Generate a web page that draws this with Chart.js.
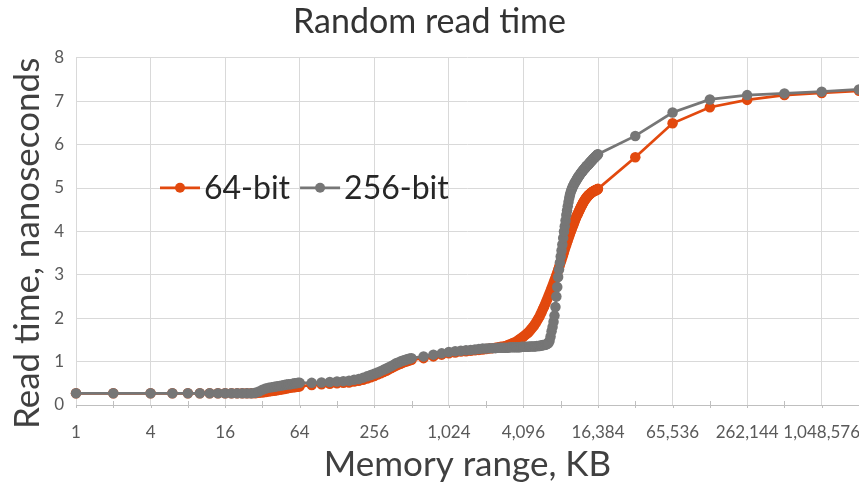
<!DOCTYPE html>
<html><head><meta charset="utf-8">
<script src="https://cdn.jsdelivr.net/npm/chart.js@4"></script>
<style>html,body{margin:0;padding:0;background:#fff}</style>
</head><body>
<canvas id="c" width="859" height="487"></canvas>
<script>
// Memory range sample points, KB
const sizesKB = [
  1,2,4,6,8,10,12,14,16,18,20,22,24,26,28,30,32,34,36,38,40,42,44,46,48,50,52,54,56,58,60,62,64,
  80,96,112,128,144,160,176,192,208,224,240,256,272,288,304,320,336,352,368,384,400,416,432,448,464,480,496,512,
  640,768,896,1024,1152,1280,1408,1536,1664,1792,1920,2048,2176,2304,2432,2560,2688,2816,2944,3072,
  3200,3328,3456,3584,3712,3840,3968,4096,4224,4352,4480,4608,4736,4864,4992,5120,5248,5376,5504,5632,
  5760,5888,6016,6144,6272,6400,6528,6656,6784,6912,7040,7168,7296,7424,7552,7680,7808,7936,8064,8192,
  8320,8448,8576,8704,8832,8960,9088,9216,9344,9472,9600,9728,9856,9984,10112,10240,10368,10496,10624,10752,
  10880,11008,11136,11264,11392,11520,11648,11776,11904,12032,12160,12288,12416,12544,12672,12800,12928,13056,13184,13312,
  13440,13568,13696,13824,13952,14080,14208,14336,14464,14592,14720,14848,14976,15104,15232,15360,15488,15616,15744,15872,
  16000,16128,16256,16384,
  32768,65536,131072,262144,524288,1048576,2097152
];

// 64-bit read time, ns
const read64 = [
  0.27,0.27,0.27,0.27,0.27,0.27,0.27,0.27,0.27,0.27,0.27,0.27,0.27,0.27,0.27,0.28,0.29,0.30,0.31,0.32,0.33,0.34,0.35,0.36,0.37,0.38,0.39,0.40,0.41,0.41,0.42,0.42,0.43,
  0.46,0.48,0.49,0.50,0.51,0.52,0.54,0.56,0.58,0.61,0.64,0.67,0.70,0.73,0.76,0.79,0.82,0.85,0.88,0.91,0.93,0.95,0.97,0.99,1.00,1.02,1.03,1.04,
  1.08,1.12,1.16,1.19,1.21,1.23,1.24,1.25,1.26,1.27,1.28,1.29,1.30,1.31,1.32,1.33,1.34,1.35,1.36,1.38,
  1.40,1.42,1.44,1.46,1.49,1.52,1.55,1.58,1.61,1.64,1.67,1.71,1.75,1.79,1.83,1.88,1.93,1.98,2.03,2.09,
  2.15,2.21,2.27,2.33,2.39,2.45,2.51,2.57,2.63,2.69,2.75,2.81,2.87,2.93,2.99,3.05,3.11,3.17,3.23,3.29,
  3.35,3.41,3.47,3.53,3.59,3.65,3.70,3.75,3.80,3.85,3.90,3.95,4.00,4.04,4.08,4.12,4.16,4.20,4.24,4.28,
  4.32,4.35,4.38,4.41,4.44,4.47,4.50,4.53,4.56,4.58,4.61,4.63,4.66,4.68,4.70,4.72,4.74,4.76,4.77,4.79,
  4.80,4.82,4.83,4.84,4.85,4.86,4.87,4.88,4.89,4.90,4.91,4.91,4.92,4.93,4.93,4.94,4.94,4.95,4.95,4.96,
  4.96,4.97,4.97,4.98,
  5.71,6.49,6.86,7.03,7.14,7.19,7.24
];

// 256-bit read time, ns
const read256 = [
  0.27,0.27,0.27,0.27,0.27,0.27,0.27,0.27,0.27,0.27,0.27,0.27,0.27,0.27,0.28,0.31,0.35,0.38,0.40,0.41,0.42,0.43,0.44,0.45,0.46,0.47,0.48,0.48,0.49,0.50,0.50,0.51,0.51,
  0.51,0.52,0.53,0.54,0.55,0.56,0.58,0.60,0.63,0.66,0.69,0.72,0.75,0.78,0.81,0.84,0.87,0.90,0.93,0.96,0.98,1.00,1.02,1.03,1.05,1.06,1.07,1.08,
  1.12,1.16,1.19,1.22,1.24,1.25,1.26,1.27,1.28,1.29,1.30,1.30,1.31,1.31,1.31,1.32,1.32,1.32,1.32,1.32,
  1.33,1.33,1.33,1.33,1.33,1.33,1.34,1.34,1.34,1.34,1.34,1.35,1.35,1.35,1.35,1.35,1.36,1.36,1.36,1.37,
  1.37,1.38,1.38,1.39,1.40,1.41,1.43,1.48,1.58,1.70,1.80,1.92,2.06,2.26,2.50,2.72,2.95,3.12,3.28,3.42,
  3.56,3.70,3.85,4.00,4.12,4.25,4.38,4.48,4.58,4.68,4.77,4.84,4.90,4.95,4.99,5.03,5.06,5.09,5.12,5.14,
  5.17,5.19,5.22,5.24,5.26,5.28,5.30,5.32,5.34,5.36,5.37,5.39,5.41,5.42,5.44,5.45,5.47,5.48,5.50,5.51,
  5.52,5.53,5.54,5.56,5.57,5.58,5.60,5.61,5.62,5.63,5.64,5.66,5.67,5.68,5.69,5.70,5.71,5.72,5.73,5.74,
  5.75,5.76,5.77,5.78,
  6.20,6.74,7.04,7.14,7.18,7.22,7.27
];

const seriesNames = ['64-bit', '256-bit'];
const seriesColors = ['#E2490E', '#767676'];
const xTickLabels = ['1','4','16','64','256','1,024','4,096','16,384','65,536','262,144','1,048,576'];
const yTickLabels = ['0','1','2','3','4','5','6','7','8'];
const yAxisTitle = 'Read time, nanoseconds';

if (read64.length !== sizesKB.length || read256.length !== sizesKB.length) {
  throw new Error('length mismatch ' + sizesKB.length + ' ' + read64.length + ' ' + read256.length);
}

const FONT = 'Lato';
const mk = (arr) => sizesKB.map((x, i) => ({x: x, y: arr[i]}));
const exp2 = (v) => Math.round(Math.log2(v));

const minorTicks = {
  id: 'minorTicks',
  beforeDatasetsDraw(chart) {
    const xs = chart.scales.x, ctx = chart.ctx, b = chart.chartArea.bottom;
    ctx.save();
    ctx.strokeStyle = '#bfbfbf';
    ctx.lineWidth = 1;
    for (let e = 0; e <= 21; e++) {
      const px = Math.round(xs.getPixelForValue(Math.pow(2, e))) + 0.5;
      ctx.beginPath();
      ctx.moveTo(px, e % 2 ? b - 4 : b);
      ctx.lineTo(px, b + 3);
      ctx.stroke();
    }
    ctx.restore();
  }
};

const yTitle = {
  id: 'yTitle',
  afterDraw(chart) {
    const ctx = chart.ctx, ca = chart.chartArea;
    ctx.save();
    ctx.translate(28, (ca.top + ca.bottom) / 2 + 12);
    ctx.rotate(-Math.PI / 2);
    ctx.font = '35px ' + FONT;
    ctx.fillStyle = '#404040';
    ctx.textAlign = 'center';
    ctx.textBaseline = 'middle';
    ctx.fillText(yAxisTitle, 0, 0);
    ctx.restore();
  }
};

const innerLegend = {
  id: 'innerLegend',
  afterDraw(chart) {
    const ctx = chart.ctx, ca = chart.chartArea;
    let x = ca.left + 84;
    const y = ca.top + 130;
    ctx.save();
    ctx.font = '32px ' + FONT;
    ctx.textBaseline = 'middle';
    chart.data.datasets.forEach((ds) => {
      ctx.strokeStyle = ds.borderColor;
      ctx.lineWidth = 2.75;
      ctx.beginPath(); ctx.moveTo(x, y); ctx.lineTo(x + 40, y); ctx.stroke();
      ctx.fillStyle = ds.borderColor;
      ctx.beginPath(); ctx.arc(x + 20, y, 5, 0, Math.PI * 2); ctx.fill();
      ctx.fillStyle = '#262626';
      ctx.fillText(ds.label, x + 44, y + 1);
      x += 44 + ctx.measureText(ds.label).width + 10;
    });
    ctx.restore();
  }
};

new Chart(document.getElementById('c'), {
  type: 'line',
  data: {
    datasets: [
      { label: seriesNames[0], data: mk(read64), borderColor: seriesColors[0], backgroundColor: seriesColors[0],
        borderWidth: 2.75, pointRadius: 5.25, pointBorderWidth: 0, pointBackgroundColor: seriesColors[0], tension: 0, clip: false, order: 1 },
      { label: seriesNames[1], data: mk(read256), borderColor: seriesColors[1], backgroundColor: seriesColors[1],
        borderWidth: 2.75, pointRadius: 5.25, pointBorderWidth: 0, pointBackgroundColor: seriesColors[1], tension: 0, clip: false, order: 0 }
    ]
  },
  options: {
    responsive: false,
    animation: false,
    devicePixelRatio: 1,
    layout: { autoPadding: false, padding: { left: 0, right: 0, top: 0, bottom: 0 } },
    plugins: {
      legend: { display: false },
      tooltip: { enabled: false },
      title: { display: true, text: 'Random read time', color: '#333333',
        font: { family: FONT, size: 34, weight: 'normal' }, padding: { top: 2, bottom: 15 } }
    },
    scales: {
      x: {
        type: 'logarithmic', min: 1, max: 2097152,
        afterBuildTicks(scale) {
          const t = [];
          for (let e = 0; e <= 21; e++) t.push({ value: Math.pow(2, e) });
          scale.ticks = t;
        },
        afterFit(scale) { scale.height = 82; scale.paddingLeft = 0; scale.paddingRight = 0; },
        border: { display: true, color: '#bfbfbf', width: 1 },
        grid: { drawTicks: false,
          color: (c) => (c.tick && exp2(c.tick.value) % 2 === 0) ? '#d9d9d9' : 'rgba(0,0,0,0)' },
        ticks: { autoSkip: false, maxRotation: 0, padding: 17, color: '#595959',
          font: { family: FONT, size: 17 },
          callback: (v) => { const e = exp2(v); return e % 2 === 0 ? (xTickLabels[e / 2] || '') : ''; } },
        title: { display: true, text: 'Memory range, KB', color: '#404040',
          font: { family: FONT, size: 35 }, padding: { top: 0, bottom: 1 } }
      },
      y: {
        min: 0, max: 8,
        afterFit(scale) { scale.width = 76; scale.paddingTop = 0; scale.paddingBottom = 0; },
        border: { display: false },
        grid: { drawTicks: false, color: '#d9d9d9' },
        ticks: { stepSize: 1, padding: 12, color: '#595959', font: { family: FONT, size: 17 },
          callback: (v) => yTickLabels[v] },
        title: { display: false }
      }
    }
  },
  plugins: [minorTicks, yTitle, innerLegend]
});
</script>
</body></html>
